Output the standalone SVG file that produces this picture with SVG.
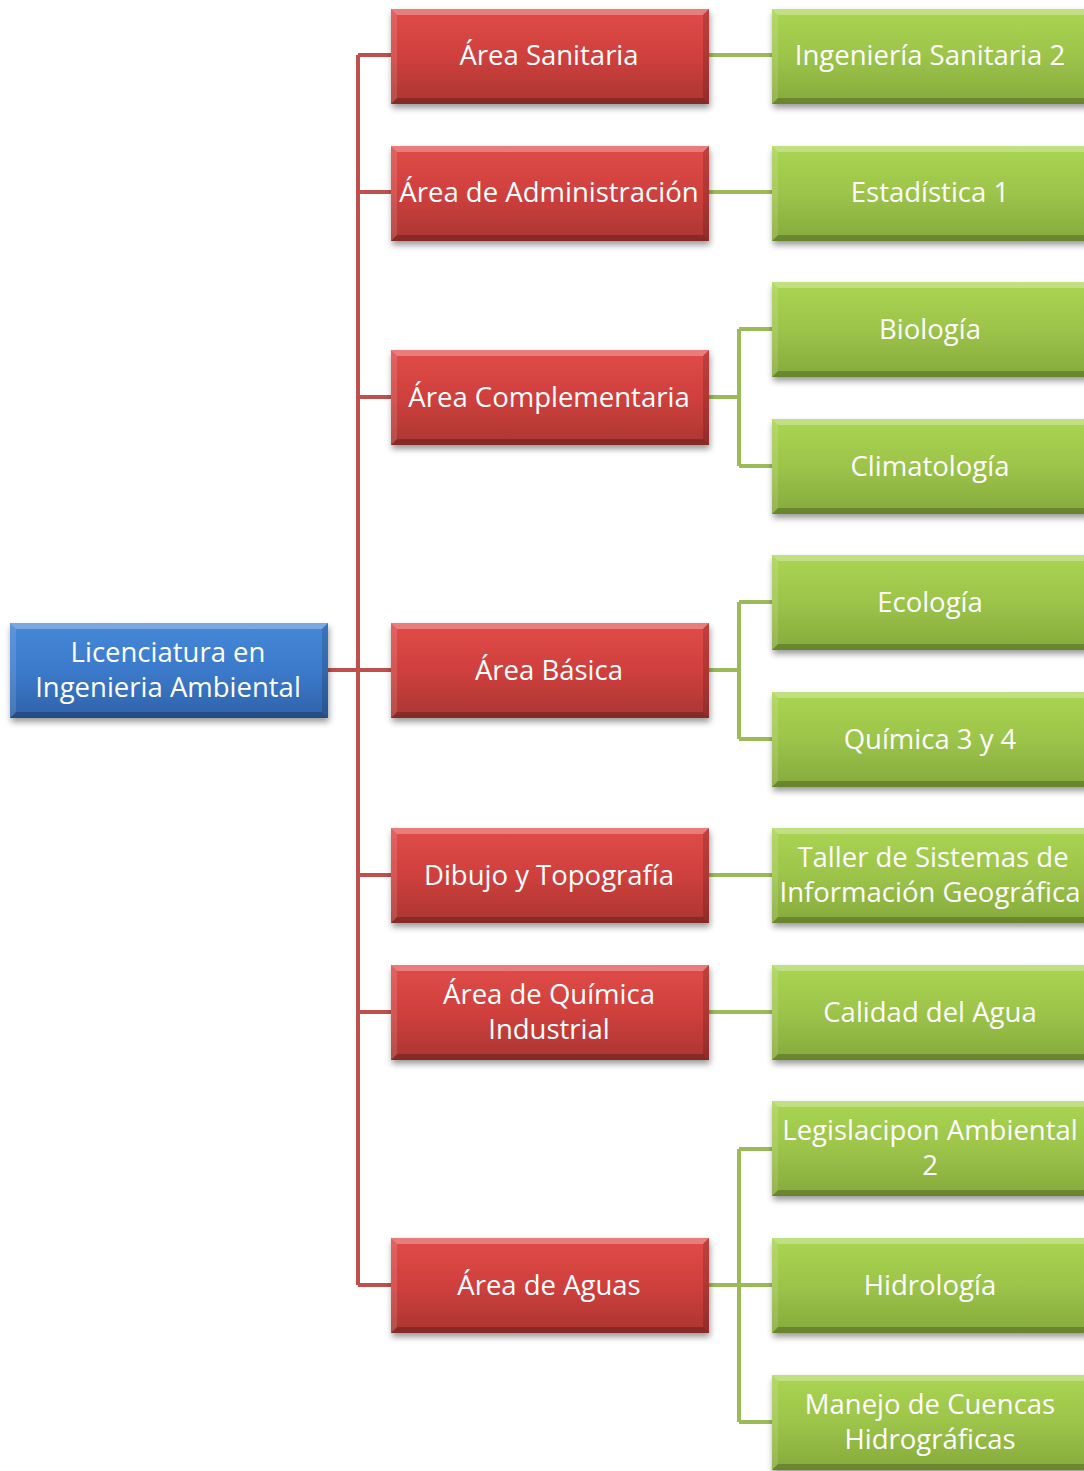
<svg xmlns="http://www.w3.org/2000/svg" width="1084" height="1471" viewBox="0 0 1084 1471">
<defs>
<linearGradient id="gR" x1="0" y1="0" x2="0" y2="1"><stop offset="0" stop-color="#e04c49"/><stop offset="0.5" stop-color="#cf403d"/><stop offset="1" stop-color="#ab3532"/></linearGradient>
<linearGradient id="gG" x1="0" y1="0" x2="0" y2="1"><stop offset="0" stop-color="#aad552"/><stop offset="0.5" stop-color="#9cc44a"/><stop offset="1" stop-color="#86aa3c"/></linearGradient>
<linearGradient id="gB" x1="0" y1="0" x2="0" y2="1"><stop offset="0" stop-color="#4688d8"/><stop offset="0.5" stop-color="#3c7acb"/><stop offset="1" stop-color="#2f62a9"/></linearGradient>
<filter id="sh" x="-10%" y="-10%" width="125%" height="135%"><feDropShadow dx="1" dy="4" stdDeviation="3" flood-color="#000" flood-opacity="0.4"/></filter>
<g id="bev">
<polygon points="0,0 318,0 312,6 6,6" fill="#fff" opacity="0.28"/>
<polygon points="0,95 318,95 312,89 6,89" fill="#000" opacity="0.22"/>
<polygon points="0,0 6,6 6,89 0,95" fill="#fff" opacity="0.12"/>
<polygon points="318,0 312,6 312,89 318,95" fill="#000" opacity="0.15"/>
</g>
</defs>
<style>
.t{font-family:"Open Sans","Noto Sans","Liberation Sans",sans-serif;font-size:27.5px;fill:#fff;text-anchor:middle}
.cr{fill:none;stroke:#c0504d;stroke-width:4}
.cg{fill:none;stroke:#9bbb59;stroke-width:4}
</style>
<g id="connectors">
<path class="cr" d="M358,55 V1285 M328,670 H391 M358,55 H391 M358,192 H391 M358,397 H391 M358,875 H391 M358,1012 H391 M358,1285 H391"/>
<path class="cg" d="M708,55 H772 M708,192 H772 M708,875 H772 M708,1012 H772 M708,397 H739 M739,329 V466 M739,329 H772 M739,466 H772 M708,670 H739 M739,602 V739 M739,602 H772 M739,739 H772 M708,1285 H772 M739,1149 V1422 M739,1149 H772 M739,1422 H772"/>
</g>
<g id="root" filter="url(#sh)"><rect x="10" y="623" width="318" height="95" fill="url(#gB)"/><use href="#bev" x="10" y="623"/></g>
<text class="t" x="168" y="662">Licenciatura en</text><text class="t" x="168" y="697">Ingenieria Ambiental</text>
<g id="r1" filter="url(#sh)"><rect x="391" y="9" width="318" height="95" fill="url(#gR)"/><use href="#bev" x="391" y="9"/></g>
<text class="t" x="549" y="65">Área Sanitaria</text>
<g id="r2" filter="url(#sh)"><rect x="391" y="146" width="318" height="95" fill="url(#gR)"/><use href="#bev" x="391" y="146"/></g>
<text class="t" x="549" y="202">Área de Administración</text>
<g id="r3" filter="url(#sh)"><rect x="391" y="350" width="318" height="95" fill="url(#gR)"/><use href="#bev" x="391" y="350"/></g>
<text class="t" x="549" y="407">Área Complementaria</text>
<g id="r4" filter="url(#sh)"><rect x="391" y="623" width="318" height="95" fill="url(#gR)"/><use href="#bev" x="391" y="623"/></g>
<text class="t" x="549" y="680">Área Básica</text>
<g id="r5" filter="url(#sh)"><rect x="391" y="828" width="318" height="95" fill="url(#gR)"/><use href="#bev" x="391" y="828"/></g>
<text class="t" x="549" y="885">Dibujo y Topografía</text>
<g id="r6" filter="url(#sh)"><rect x="391" y="965" width="318" height="95" fill="url(#gR)"/><use href="#bev" x="391" y="965"/></g>
<text class="t" x="549" y="1004">Área de Química</text><text class="t" x="549" y="1039">Industrial</text>
<g id="r7" filter="url(#sh)"><rect x="391" y="1238" width="318" height="95" fill="url(#gR)"/><use href="#bev" x="391" y="1238"/></g>
<text class="t" x="549" y="1295">Área de Aguas</text>
<g id="g1" filter="url(#sh)"><rect x="772" y="9" width="318" height="95" fill="url(#gG)"/><use href="#bev" x="772" y="9"/></g>
<text class="t" x="930" y="65">Ingeniería Sanitaria 2</text>
<g id="g2" filter="url(#sh)"><rect x="772" y="146" width="318" height="95" fill="url(#gG)"/><use href="#bev" x="772" y="146"/></g>
<text class="t" x="930" y="202">Estadística 1</text>
<g id="g3" filter="url(#sh)"><rect x="772" y="282" width="318" height="95" fill="url(#gG)"/><use href="#bev" x="772" y="282"/></g>
<text class="t" x="930" y="339">Biología</text>
<g id="g4" filter="url(#sh)"><rect x="772" y="419" width="318" height="95" fill="url(#gG)"/><use href="#bev" x="772" y="419"/></g>
<text class="t" x="930" y="476">Climatología</text>
<g id="g5" filter="url(#sh)"><rect x="772" y="555" width="318" height="95" fill="url(#gG)"/><use href="#bev" x="772" y="555"/></g>
<text class="t" x="930" y="612">Ecología</text>
<g id="g6" filter="url(#sh)"><rect x="772" y="692" width="318" height="95" fill="url(#gG)"/><use href="#bev" x="772" y="692"/></g>
<text class="t" x="930" y="749">Química 3 y 4</text>
<g id="g7" filter="url(#sh)"><rect x="772" y="828" width="318" height="95" fill="url(#gG)"/><use href="#bev" x="772" y="828"/></g>
<text class="t" x="933" y="867">Taller de Sistemas de</text><text class="t" x="930" y="902">Información Geográfica</text>
<g id="g8" filter="url(#sh)"><rect x="772" y="965" width="318" height="95" fill="url(#gG)"/><use href="#bev" x="772" y="965"/></g>
<text class="t" x="930" y="1022">Calidad del Agua</text>
<g id="g9" filter="url(#sh)"><rect x="772" y="1101" width="318" height="95" fill="url(#gG)"/><use href="#bev" x="772" y="1101"/></g>
<text class="t" x="930" y="1140">Legislacipon Ambiental</text><text class="t" x="930" y="1175">2</text>
<g id="g10" filter="url(#sh)"><rect x="772" y="1238" width="318" height="95" fill="url(#gG)"/><use href="#bev" x="772" y="1238"/></g>
<text class="t" x="930" y="1295">Hidrología</text>
<g id="g11" filter="url(#sh)"><rect x="772" y="1375" width="318" height="95" fill="url(#gG)"/><use href="#bev" x="772" y="1375"/></g>
<text class="t" x="930" y="1414">Manejo de Cuencas</text><text class="t" x="930" y="1449">Hidrográficas</text>
</svg>
